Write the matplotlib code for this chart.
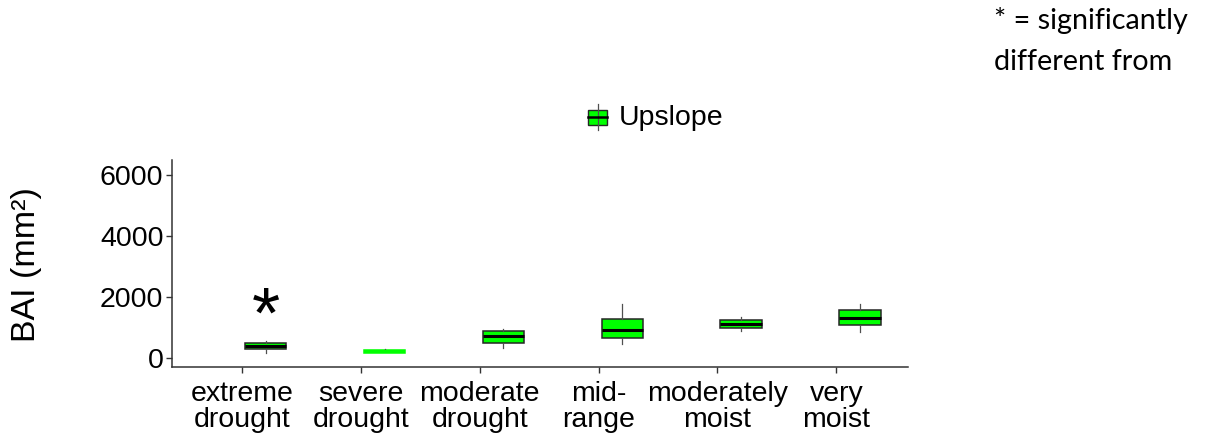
import numpy as np
import matplotlib
matplotlib.use("Agg")
import matplotlib.pyplot as plt
from matplotlib.patches import Rectangle
from matplotlib.lines import Line2D
from matplotlib import font_manager

# drought classes on the x axis
CATEGORIES = ["extreme\ndrought", "severe\ndrought", "moderate\ndrought",
              "mid-\nrange", "moderately\nmoist", "very\nmoist"]

# BAI (mm²) box statistics for the Upslope group
WHISK_LO = [185, 170, 340, 470, 905, 855]
Q1 = [295, 180, 515, 675, 1005, 1085]
MEDIAN = [395, 230, 720, 930, 1125, 1335]
Q3 = [490, 280, 885, 1290, 1255, 1565]
WHISK_HI = [575, 290, 960, 1780, 1345, 1780]

Y_TICKS = [0, 2000, 4000, 6000]
SIGNIF = [True, False, False, False, False, False]

GREEN = "#00ff00"


def pick_font(names):
    have = {f.name for f in font_manager.fontManager.ttflist}
    for n in names:
        if n in have:
            return n
    return "DejaVu Sans"


SANS = pick_font(["Liberation Sans", "Arial"])
NOTE_FONT = pick_font(["Lato", "Open Sans"])

fig = plt.figure(figsize=(12.07, 4.44), dpi=100)
ax = fig.add_axes([0.1423, 0.1727, 0.6097, 0.4669])

pos = np.arange(1, len(CATEGORIES) + 1)
dodge = 0.2

stats = []
for i in range(len(CATEGORIES)):
    stats.append(dict(whislo=WHISK_LO[i], q1=Q1[i], med=MEDIAN[i],
                      q3=Q3[i], whishi=WHISK_HI[i], fliers=[]))

bp = ax.bxp(stats, positions=pos + dodge, widths=0.35, patch_artist=True,
            showcaps=False,
            boxprops=dict(facecolor=GREEN, edgecolor="#262626", linewidth=1.1),
            medianprops=dict(color="black", linewidth=2.2),
            whiskerprops=dict(color="#505050", linewidth=0.9))

# the severe drought class collapses to a flat bar with no outline
bp["boxes"][1].set_edgecolor(GREEN)
bp["medians"][1].set_color(GREEN)
bp["medians"][1].set_linewidth(1.5)

# significance marks above the whiskers
for i, s in enumerate(SIGNIF):
    if s:
        ax.text(pos[i] + dodge, WHISK_HI[i] + 110, "*", ha="center",
                va="baseline", fontsize=52, family=SANS, color="black")

ax.set_xlim(0.41, 6.6)
ax.set_ylim(-295, 6490)
ax.set_xticks(pos)
ax.set_xticklabels(CATEGORIES, family=SANS, fontsize=20.5,
                   linespacing=1.04)
ax.set_yticks(Y_TICKS)
ax.set_yticklabels([str(v) for v in Y_TICKS], family=SANS, fontsize=20.5)

for side in ["top", "right"]:
    ax.spines[side].set_visible(False)
for side in ["left", "bottom"]:
    ax.spines[side].set_color("#333333")
    ax.spines[side].set_linewidth(1.1)
ax.tick_params(axis="both", direction="out", length=4, width=1,
               color="#333333", labelcolor="black")
ax.tick_params(axis="x", pad=5.5)
ax.tick_params(axis="y", pad=2)

fig.text(27 / 1207, 1 - 265 / 444, "BAI (mm²)", rotation=90, ha="center",
         va="center", family=SANS, fontsize=24.5)

# legend key drawn in figure pixels
W, H = 1207.0, 444.0
fig.add_artist(Line2D([597.5 / W, 597.5 / W], [1 - 104 / H, 1 - 130 / H],
                      color="#505050", linewidth=0.9, transform=fig.transFigure))
fig.add_artist(Rectangle((588 / W, 1 - 125 / H), 19 / W, 15 / H,
                         facecolor=GREEN, edgecolor="#262626", linewidth=1.0,
                         transform=fig.transFigure))
fig.add_artist(Line2D([588 / W, 607 / W], [1 - 117.5 / H, 1 - 117.5 / H],
                      color="black", linewidth=1.8, transform=fig.transFigure))
fig.text(619 / W, 1 - 118 / H, "Upslope", ha="left", va="center",
         family=SANS, fontsize=20.5)

fig.text(994 / W, 1 - 41 / H, "* = significantly\ndifferent from",
         ha="left", va="center", family=NOTE_FONT, fontsize=20.7,
         linespacing=1.75)

fig.savefig("out.png", dpi=100, facecolor="white")
